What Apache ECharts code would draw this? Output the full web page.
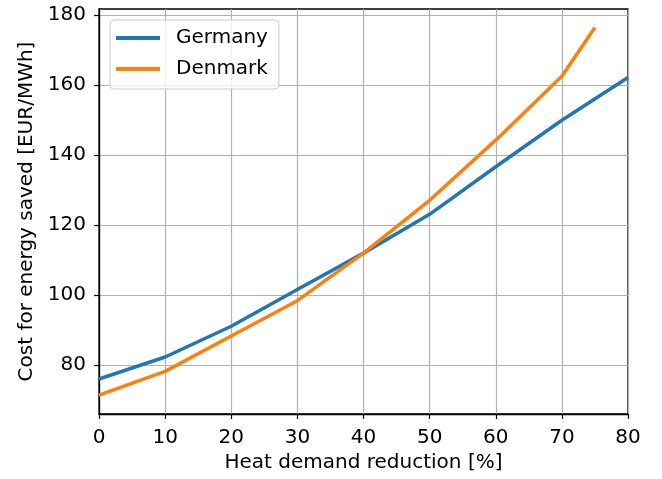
<!DOCTYPE html>
<html>
<head>
<meta charset="utf-8">
<script src="https://cdn.jsdelivr.net/npm/echarts@6/dist/echarts.min.js"></script>
<style>html,body{margin:0;padding:0;background:#fff}#c{width:662px;height:479px}</style>
</head>
<body>
<div id="c"></div>
<script>
const xValues = [0, 10, 20, 30, 40, 50, 60, 70, 80];
const germany = [76, 82.3, 91.1, 101.6, 112, 123.1, 136.7, 150, 162.2];
const denmarkX = [0, 10, 20, 30, 40, 50, 60, 70, 75];
const denmark = [71.4, 78.2, 88.3, 98.4, 112, 127.1, 144.3, 162.6, 176.5];
const yTicks = [80, 100, 120, 140, 160, 180];
const xTicks = [0, 10, 20, 30, 40, 50, 60, 70, 80];

const font = 'DejaVu Sans';
const fs = 20;
const chart = echarts.init(document.getElementById('c'), null, {renderer: 'canvas'});
chart.setOption({
  animation: false,
  backgroundColor: '#fff',
  grid: {left: 99, right: 34, top: 9, bottom: 65, show: true, borderColor: '#000', borderWidth: 1.3, backgroundColor: 'transparent'},
  legend: {
    orient: 'vertical', left: 110, top: 20,
    backgroundColor: 'rgba(255,255,255,0.8)', borderColor: '#cccccc', borderWidth: 1, borderRadius: 4,
    padding: [8, 11, 10, 6], itemGap: 11, itemWidth: 44, itemHeight: 4, icon: 'rect',
    textStyle: {fontFamily: font, fontSize: fs, color: '#000', padding: [0, 0, 0, 11]},
    data: ['Germany', 'Denmark']
  },
  xAxis: {
    type: 'value', min: 0, max: 80, interval: 10,
    name: 'Heat demand reduction [%]', nameLocation: 'middle', nameGap: 39,
    nameTextStyle: {fontFamily: font, fontSize: fs, color: '#000'},
    axisLine: {show: true, lineStyle: {color: '#000', width: 1.3}},
    axisTick: {show: true, inside: false, length: 5, lineStyle: {color: '#000', width: 1.2}},
    axisLabel: {fontFamily: font, fontSize: fs, color: '#000', margin: 14, customValues: xTicks},
    splitLine: {show: true, lineStyle: {color: '#b0b0b0', width: 1.2}}
  },
  yAxis: {
    type: 'value', min: 66, max: 181.8, interval: 20,
    name: 'Cost for energy saved [EUR/MWh]', nameLocation: 'middle', nameGap: 62,
    nameTextStyle: {fontFamily: font, fontSize: fs, color: '#000'},
    axisLine: {show: true, lineStyle: {color: '#000', width: 1.3}},
    axisTick: {show: true, inside: false, length: 5, lineStyle: {color: '#000', width: 1.2}, customValues: yTicks},
    axisLabel: {fontFamily: font, fontSize: fs, color: '#000', margin: 13, customValues: yTicks},
    splitLine: {show: true, lineStyle: {color: '#b0b0b0', width: 1.2}}
  },
  series: [
    {name: 'Germany', type: 'line', data: xValues.map((x, i) => [x, germany[i]]), showSymbol: false, symbol: 'none',
     lineStyle: {color: '#1f77b4', width: 3.5}, itemStyle: {color: '#1f77b4'}},
    {name: 'Denmark', type: 'line', data: denmarkX.map((x, i) => [x, denmark[i]]), showSymbol: false, symbol: 'none',
     lineStyle: {color: '#ff7f0e', width: 3.5}, itemStyle: {color: '#ff7f0e'}}
  ]
});
</script>
</body>
</html>
